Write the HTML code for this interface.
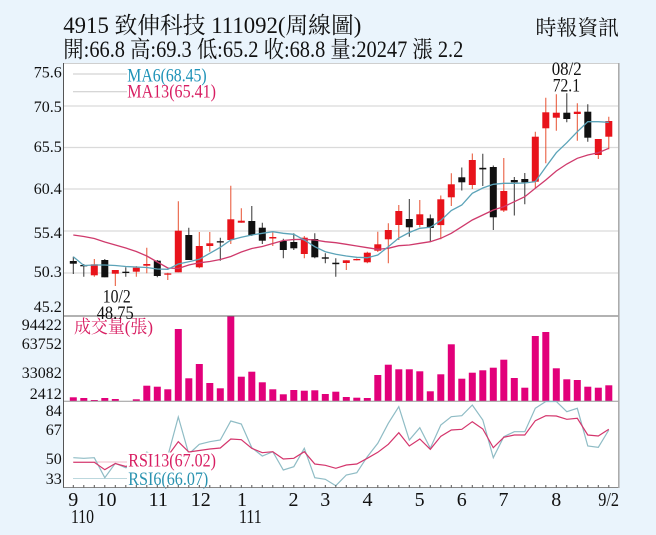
<!DOCTYPE html>
<html><head><meta charset="utf-8"><style>
html,body{margin:0;padding:0;background:#eaf4fc;}
svg{display:block;}
text{font-family:"Liberation Serif","Noto Serif CJK SC","Noto Sans CJK TC",serif;}
</style></head><body>
<svg width="656" height="535" viewBox="0 0 656 535" xmlns="http://www.w3.org/2000/svg">
<rect x="0" y="0" width="656" height="535" fill="#eaf4fc"/>
<text x="63.3" y="33" font-size="23" fill="#111" textLength="298" lengthAdjust="spacingAndGlyphs">4915  致伸科技 111092(周線圖)</text>
<text x="63.3" y="57" font-size="23" fill="#111" textLength="400" lengthAdjust="spacingAndGlyphs">開:66.8 高:69.3 低:65.2 收:68.8 量:20247 漲 2.2</text>
<text x="535.5" y="35" font-size="21" fill="#111" textLength="83.5" lengthAdjust="spacingAndGlyphs">時報資訊</text>
<rect x="63.5" y="63.5" width="555" height="424" fill="#fff"/>
<line x1="63.5" y1="63.5" x2="618.5" y2="63.5" stroke="#cfcfcf"/>
<path d="M64 106H618M64 147.5H618M64 189H618M64 231H618M64 273H618" stroke="#dadada" stroke-width="1.2" fill="none"/>
<g font-size="16" fill="#111" text-anchor="end">
<text x="61.7" y="77.5">75.6</text><text x="61.7" y="112">70.5</text><text x="61.7" y="152">65.5</text><text x="61.7" y="194">60.4</text><text x="61.7" y="238">55.4</text><text x="61.7" y="277">50.3</text><text x="61.7" y="312">45.2</text>
<text x="61.7" y="330">94422</text><text x="61.7" y="349">63752</text><text x="61.7" y="378">33082</text><text x="61.7" y="399">2412</text>
<text x="61.7" y="416">84</text><text x="61.7" y="435">67</text><text x="61.7" y="464">50</text><text x="61.7" y="484">33</text>
</g>
<path d="M73 74H127M73 91.7H127" stroke="#c9c9c9" fill="none"/>
<text x="127.3" y="81.5" font-size="19" fill="#1f93b8" textLength="79.4" lengthAdjust="spacingAndGlyphs">MA6(68.45)</text>
<text x="127.3" y="97.3" font-size="19" fill="#d81e62" textLength="88.7" lengthAdjust="spacingAndGlyphs">MA13(65.41)</text>
<!-- black wicks -->
<path fill="none" stroke="#333" d="M73.3 256.7V274M83.8 264V276.7M104.8 259V277.3M125.8 267.3V276.7M157.3 260V277.3M188.8 227.7V260M220.3 237.7V260.7M251.8 206V236M262.3 222.7V244M283.3 238.7V258.3M293.8 233.3V250M314.8 233.3V258.3M325.3 253.3V263.3M335.8 258.3V276.7M409.3 199V236.7M430.3 214.5V241.3M461.8 167.5V190.5M482.8 153.8V186M493.3 165.5V230M514.3 177V215.5M524.8 173V204.2M566.8 93.3V122.3M587.8 104.3V141.7"/>
<!-- red wicks -->
<path fill="none" stroke="#e85030" d="M94.3 259V276.7M115.3 270V286M136.3 266V276.7M146.8 247.7V273.3M167.8 272.7V280M178.3 201.3V272.3M199.3 232V268.3M209.8 232V251.7M230.8 185.7V244M241.3 208.3V222.7M272.8 231.7V246M304.3 236V258.3M346.3 260.3V270M356.8 258.5V260.5M367.3 251.7V263.3M377.8 231.7V252M388.3 223.3V263.3M398.8 205V240M419.8 200V227.3M440.8 195.5V239.2M451.3 173.3V206M472.3 153.5V189M503.8 158V212M535.3 131.7V188.3M545.8 97.7V163.3M556.3 94.3V130.7M577.3 103.3V140.7M598.3 139V159M608.8 116.7V149.3"/>
<g fill="#111">
<rect x="69.8" y="261" width="7" height="2.7"/><rect x="80.3" y="265" width="7" height="1.3"/><rect x="101.3" y="260" width="7" height="17.3"/><rect x="122.3" y="271.7" width="7" height="1.3"/><rect x="153.8" y="260.7" width="7" height="15.3"/><rect x="185.3" y="235" width="7" height="25"/><rect x="216.8" y="241.2" width="7" height="1.3"/><rect x="248.3" y="221" width="7" height="14"/><rect x="258.8" y="227.7" width="7" height="13"/><rect x="279.8" y="241" width="7" height="9"/><rect x="290.3" y="242" width="7" height="6.3"/><rect x="311.3" y="239" width="7" height="18.3"/><rect x="321.8" y="257.3" width="7" height="1.4"/><rect x="332.3" y="262.7" width="7" height="1.5"/><rect x="405.8" y="219" width="7" height="8.3"/><rect x="426.8" y="218.3" width="7" height="9.7"/><rect x="458.3" y="177.3" width="7" height="5"/><rect x="479.3" y="167.8" width="7" height="1.6"/><rect x="489.8" y="167" width="7" height="50.3"/><rect x="510.8" y="180" width="7" height="2.3"/><rect x="521.3" y="179" width="7" height="3.3"/><rect x="563.3" y="112.7" width="7" height="6.3"/><rect x="584.3" y="111.7" width="7" height="26"/>
</g>
<g fill="#e8131b">
<rect x="90.8" y="264.3" width="7" height="11"/><rect x="111.8" y="270" width="7" height="3.7"/><rect x="132.8" y="267.7" width="7" height="4"/><rect x="143.3" y="264" width="7" height="1.7"/><rect x="164.3" y="273.4" width="7" height="1.3"/><rect x="174.8" y="230.7" width="7" height="41.6"/><rect x="195.8" y="246" width="7" height="21.3"/><rect x="206.3" y="243.3" width="7" height="2.7"/><rect x="227.3" y="219.3" width="7" height="20.7"/><rect x="237.8" y="220.7" width="7" height="2"/><rect x="269.3" y="237" width="7" height="1.5"/><rect x="300.8" y="237.7" width="7" height="16.3"/><rect x="342.8" y="260.3" width="7" height="2.7"/><rect x="353.3" y="259" width="7" height="1.3"/><rect x="363.8" y="252.7" width="7" height="9.6"/><rect x="374.3" y="244.3" width="7" height="6.4"/><rect x="384.8" y="230" width="7" height="9.3"/><rect x="395.3" y="211" width="7" height="14"/><rect x="416.3" y="214.3" width="7" height="10.7"/><rect x="437.3" y="199.3" width="7" height="25.8"/><rect x="447.8" y="184.3" width="7" height="13"/><rect x="468.8" y="160" width="7" height="25"/><rect x="500.3" y="191" width="7" height="19.5"/><rect x="531.8" y="136.7" width="7" height="45"/><rect x="542.3" y="112.3" width="7" height="16"/><rect x="552.8" y="112.7" width="7" height="5"/><rect x="573.8" y="111.7" width="7" height="2.3"/><rect x="594.8" y="139" width="7" height="16"/><rect x="605.3" y="121" width="7" height="15.7"/>
</g>
<polyline fill="none" stroke="#cf3a6c" stroke-width="1.3" points="73.3,235 83.8,236.5 94.3,238.5 104.8,242 115.3,245 125.8,248 136.3,251.5 146.8,256 157.3,262 167.8,268 178.3,268.5 188.8,265 199.3,262.8 209.8,261.5 220.3,259.5 230.8,256.5 241.3,252 251.8,248.5 262.3,246.5 272.8,243.5 283.3,240.5 293.8,239.5 304.3,239.3 314.8,240 325.3,241.7 335.8,242.7 346.3,244.3 356.8,246 367.3,247.7 377.8,249.3 388.3,248.3 398.8,245.7 409.3,245 419.8,243.3 430.3,241.7 440.8,238.3 451.3,233.3 461.8,226.7 472.3,220 482.8,215 493.3,210 503.8,206.7 514.3,201.7 524.8,196.7 535.3,188.3 545.8,180 556.3,171 566.8,164 577.3,158.3 587.8,155 598.3,152.7 608.8,148.3"/>
<polyline fill="none" stroke="#5ba3b8" stroke-width="1.3" points="73.3,256.7 83.8,265.5 94.3,265 104.8,265 115.3,265.5 125.8,266.5 136.3,267 146.8,267.5 157.3,269 167.8,269.3 178.3,264 188.8,261.7 199.3,259.3 209.8,253.3 220.3,247.3 230.8,240 241.3,237.3 251.8,235 262.3,233.3 272.8,231.7 283.3,233.3 293.8,234.3 304.3,240 314.8,246.7 325.3,251.7 335.8,254.3 346.3,256 356.8,257.3 367.3,257.7 377.8,255 388.3,246.7 398.8,238 409.3,232.5 419.8,228.3 430.3,227.3 440.8,220.5 451.3,210.5 461.8,205 472.3,193.3 482.8,188 493.3,184.3 503.8,183.3 514.3,183.3 524.8,183 535.3,181.7 545.8,167 556.3,152.7 566.8,142.7 577.3,131.7 587.8,121.7 598.3,121.7 608.8,122.3"/>
<text x="551.7" y="75" font-size="19" fill="#111" textLength="30" lengthAdjust="spacingAndGlyphs">08/2</text>
<text x="552.7" y="91.5" font-size="19" fill="#111" textLength="27.3" lengthAdjust="spacingAndGlyphs">72.1</text>
<g fill="#e2007a">
<rect x="69.8" y="397.3" width="7" height="3.7"/><rect x="80.3" y="398" width="7" height="3"/><rect x="90.8" y="400" width="7" height="1"/><rect x="101.3" y="398" width="7" height="3"/><rect x="111.8" y="399" width="7" height="2"/><rect x="132.8" y="399.3" width="7" height="1.7"/><rect x="143.3" y="385.7" width="7" height="15.3"/><rect x="153.8" y="386.7" width="7" height="14.3"/><rect x="164.3" y="389.3" width="7" height="11.7"/><rect x="174.8" y="329" width="7" height="72"/><rect x="185.3" y="378.3" width="7" height="22.7"/><rect x="195.8" y="364" width="7" height="37"/><rect x="206.3" y="383" width="7" height="18"/><rect x="216.8" y="388.3" width="7" height="12.7"/><rect x="227.3" y="316" width="7" height="85"/><rect x="237.8" y="376.7" width="7" height="24.3"/><rect x="248.3" y="371.7" width="7" height="29.3"/><rect x="258.8" y="382.3" width="7" height="18.7"/><rect x="269.3" y="389.3" width="7" height="11.7"/><rect x="279.8" y="394.3" width="7" height="6.7"/><rect x="290.3" y="390" width="7" height="11"/><rect x="300.8" y="390.7" width="7" height="10.3"/><rect x="311.3" y="390.3" width="7" height="10.7"/><rect x="321.8" y="394" width="7" height="7"/><rect x="332.3" y="391.7" width="7" height="9.3"/><rect x="342.8" y="397" width="7" height="4"/><rect x="353.3" y="397.7" width="7" height="3.3"/><rect x="363.8" y="398" width="7" height="3"/><rect x="374.3" y="375" width="7" height="26"/><rect x="384.8" y="364.7" width="7" height="36.3"/><rect x="395.3" y="369.3" width="7" height="31.7"/><rect x="405.8" y="369.3" width="7" height="31.7"/><rect x="416.3" y="371.3" width="7" height="29.7"/><rect x="426.8" y="391.3" width="7" height="9.7"/><rect x="437.3" y="374.3" width="7" height="26.7"/><rect x="447.8" y="344.3" width="7" height="56.7"/><rect x="458.3" y="378.7" width="7" height="22.3"/><rect x="468.8" y="372.7" width="7" height="28.3"/><rect x="479.3" y="370.3" width="7" height="30.7"/><rect x="489.8" y="367.7" width="7" height="33.3"/><rect x="500.3" y="359.7" width="7" height="41.3"/><rect x="510.8" y="378" width="7" height="23"/><rect x="521.3" y="387.7" width="7" height="13.3"/><rect x="531.8" y="336" width="7" height="65"/><rect x="542.3" y="332" width="7" height="69"/><rect x="552.8" y="368.3" width="7" height="32.7"/><rect x="563.3" y="379.3" width="7" height="21.7"/><rect x="573.8" y="380" width="7" height="21"/><rect x="584.3" y="386.7" width="7" height="14.3"/><rect x="594.8" y="387.7" width="7" height="13.3"/><rect x="605.3" y="385.3" width="7" height="15.7"/>
</g>
<text x="74" y="333" font-size="18" fill="#d81e62" textLength="79" lengthAdjust="spacingAndGlyphs">成交量(張)</text>
<line x1="63.5" y1="316" x2="618.5" y2="316" stroke="#666"/>
<line x1="63.5" y1="401.3" x2="618.5" y2="401.3" stroke="#999"/>
<text x="102.7" y="302.5" font-size="19" fill="#111" textLength="28" lengthAdjust="spacingAndGlyphs">10/2</text>
<text x="96.7" y="319" font-size="19" fill="#111" textLength="37" lengthAdjust="spacingAndGlyphs">48.75</text>
<line x1="73" y1="462" x2="127" y2="462" stroke="#f0b8c8"/>
<line x1="73" y1="478.5" x2="127" y2="478.5" stroke="#bcd8de"/>
<polyline fill="none" stroke="#8fbcc5" stroke-width="1.2" points="73.3,457.7 83.8,458.3 94.3,457.7 104.8,477.7 115.3,463.3 125.8,467.7 136.3,465 146.8,452 157.3,458 167.8,456 178.3,417 188.8,454 199.3,444.3 209.8,441.7 220.3,440 230.8,421 241.3,424 251.8,447.7 262.3,456 272.8,451.7 283.3,470 293.8,466.7 304.3,448.3 314.8,477.7 325.3,479.3 335.8,485.7 346.3,475 356.8,472.7 367.3,456.7 377.8,443.3 388.3,423.3 398.8,406.7 409.3,440 419.8,427.7 430.3,448.3 440.8,425 451.3,416.7 461.8,415.7 472.3,405 482.8,420 493.3,457.7 503.8,436.7 514.3,431.7 524.8,431.7 535.3,408.3 545.8,401.5 556.3,401.5 566.8,411.7 577.3,408.3 587.8,446 598.3,447.3 608.8,430"/>
<polyline fill="none" stroke="#d4356c" stroke-width="1.2" points="73.3,462.3 83.8,462.3 94.3,462.3 104.8,469.7 115.3,463.5 125.8,466.5 136.3,463 146.8,458 157.3,458 167.8,456 178.3,441.7 188.8,452 199.3,450.5 209.8,449 220.3,448 230.8,439 241.3,439.7 251.8,448.3 262.3,452.7 272.8,451.7 283.3,459 293.8,458.3 304.3,451.7 314.8,464 325.3,465.3 335.8,468.3 346.3,465 356.8,464 367.3,458.3 377.8,452.3 388.3,444.3 398.8,432.7 409.3,446 419.8,439 430.3,449.3 440.8,436.3 451.3,430 461.8,429.3 472.3,421.7 482.8,429 493.3,447.7 503.8,437.3 514.3,435 524.8,435 535.3,420.7 545.8,415.7 556.3,416 566.8,419.3 577.3,418.3 587.8,435 598.3,436 608.8,429.3"/>
<rect x="127" y="452.5" width="91" height="34" fill="#fff"/>
<text x="128.3" y="466.5" font-size="19" fill="#d81e62" textLength="87.7" lengthAdjust="spacingAndGlyphs">RSI13(67.02)</text>
<text x="128.3" y="485" font-size="19" fill="#2a93b0" textLength="80" lengthAdjust="spacingAndGlyphs">RSI6(66.07)</text>
<line x1="63.5" y1="63" x2="63.5" y2="488" stroke="#555"/>
<line x1="63.5" y1="487.5" x2="619" y2="487.5" stroke="#888"/>
<line x1="618.8" y1="63" x2="618.8" y2="488" stroke="#a8a8a8" stroke-width="1.5"/>
<path fill="none" stroke="#555" d="M73.3 485V487.5M83.8 485V487.5M94.3 485V487.5M104.8 485V487.5M115.3 485V487.5M125.8 485V487.5M136.3 485V487.5M146.8 485V487.5M157.3 485V487.5M167.8 485V487.5M178.3 485V487.5M188.8 485V487.5M199.3 485V487.5M209.8 485V487.5M220.3 485V487.5M230.8 485V487.5M241.3 485V487.5M251.8 485V487.5M262.3 485V487.5M272.8 485V487.5M283.3 485V487.5M293.8 485V487.5M304.3 485V487.5M314.8 485V487.5M325.3 485V487.5M335.8 485V487.5M346.3 485V487.5M356.8 485V487.5M367.3 485V487.5M377.8 485V487.5M388.3 485V487.5M398.8 485V487.5M409.3 485V487.5M419.8 485V487.5M430.3 485V487.5M440.8 485V487.5M451.3 485V487.5M461.8 485V487.5M472.3 485V487.5M482.8 485V487.5M493.3 485V487.5M503.8 485V487.5M514.3 485V487.5M524.8 485V487.5M535.3 485V487.5M545.8 485V487.5M556.3 485V487.5M566.8 485V487.5M577.3 485V487.5M587.8 485V487.5M598.3 485V487.5M608.8 485V487.5"/>
<g font-size="20" fill="#111" text-anchor="middle">
<text x="73.3" y="506">9</text><text x="106.5" y="506">10</text><text x="158.3" y="506">11</text><text x="200.8" y="506">12</text><text x="242" y="506">1</text><text x="293.5" y="506">2</text><text x="325.3" y="506">3</text><text x="367.5" y="506">4</text><text x="419.6" y="506">5</text><text x="461.7" y="506">6</text><text x="503.5" y="506">7</text><text x="556.2" y="506">8</text>
</g>
<text x="598.3" y="506" font-size="20" fill="#111" textLength="20.7" lengthAdjust="spacingAndGlyphs">9/2</text>
<text x="71" y="523" font-size="20" fill="#111" textLength="23" lengthAdjust="spacingAndGlyphs">110</text>
<text x="239" y="523" font-size="20" fill="#111" textLength="22.7" lengthAdjust="spacingAndGlyphs">111</text>
</svg>
</body></html>
